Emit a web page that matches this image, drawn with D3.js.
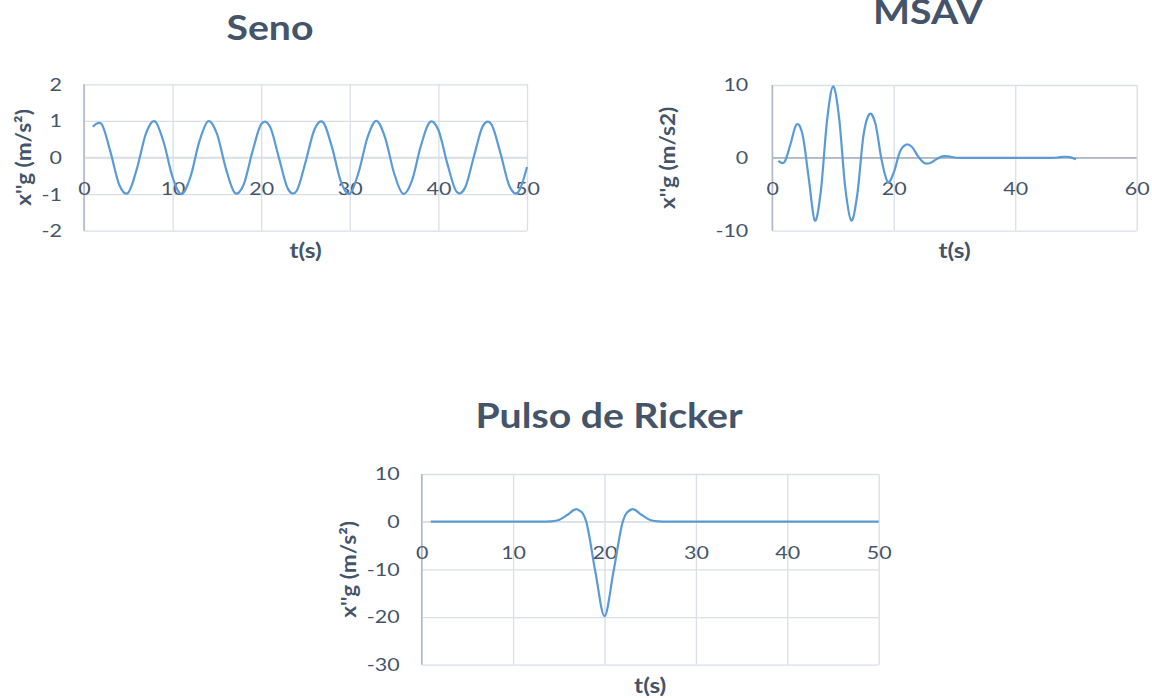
<!DOCTYPE html>
<html>
<head>
<meta charset="utf-8">
<script src="https://cdn.jsdelivr.net/npm/d3@7"></script>
<style>
  body { margin: 0; background: #fff; }
  svg { display: block; font-family: Lato, Carlito, Calibri, sans-serif; }
</style>
</head>
<body>
<svg id="chart" width="1152" height="698"></svg>
<script>
// Time samples (s), one per second
const time = d3.range(1, 51);

// Sine excitation x''g (m/s²)
const senoValues = [
  0.84, 0.91, 0.14, -0.76, -0.96, -0.28, 0.66, 0.99, 0.41, -0.54,
  -1.00, -0.54, 0.42, 0.99, 0.65, -0.29, -0.96, -0.75, 0.15, 0.91,
  0.84, -0.01, -0.85, -0.91, -0.13, 0.76, 0.96, 0.27, -0.66, -0.99,
  -0.40, 0.55, 1.00, 0.53, -0.43, -0.99, -0.64, 0.30, 0.96, 0.75,
  -0.16, -0.92, -0.83, 0.02, 0.85, 0.90, 0.12, -0.77, -0.95, -0.26
];

// MSAV record x''g (m/s2)
const msavValues = [
  -0.4, -0.6, 1.9, 4.6, 3.1, -2.8, -8.6, -4.5, 5.0, 9.8,
  5.5, -4.0, -8.6, -5.0, 3.0, 6.0, 4.6, -0.3, -3.3, -2.0,
  0.8, 1.8, 1.5, 0.2, -0.7, -0.7, -0.2, 0.2, 0.2, 0.05,
  0, 0, 0, 0, 0, 0, 0, 0, 0, 0,
  0, 0, 0, 0, 0, 0, 0.05, 0.15, 0.1, -0.2
];

// Ricker pulse x''g (m/s²)
const rickerValues = [
  0, 0, 0, 0, 0, 0, 0, 0, 0, 0,
  0, 0, 0, 0.05, 0.35, 1.5, 2.6, 0.0, -10.5, -19.8,
  -10.3, 0.0, 2.6, 1.5, 0.35, 0.05, 0, 0, 0, 0,
  0, 0, 0, 0, 0, 0, 0, 0, 0, 0,
  0, 0, 0, 0, 0, 0, 0, 0, 0, 0
];

// Axis ticks
const senoXTicks = [0, 10, 20, 30, 40, 50];
const senoYTicks = [-2, -1, 0, 1, 2];
const msavXTicks = [0, 20, 40, 60];
const msavYTicks = [-10, 0, 10];
const rickerXTicks = [0, 10, 20, 30, 40, 50];
const rickerYTicks = [-30, -20, -10, 0, 10];

const TEXT = "#44546A";
const GRID = "#D9DEE7";
const AXIS = "#AEB7C7";
const LINE = "#5B9BD5";

const panels = [
  {
    title: "Seno", titleX: 270, titleY: 40,
    yTitle: "x''g (m/s²)", yTitleX: 24,
    series: senoValues, xTicks: senoXTicks, yTicks: senoYTicks,
    xDomain: [0, 50], yDomain: [-2, 2],
    left: 84, right: 527, top: 84.3, bottom: 230.7,
    yLabelPad: 22, zeroColor: GRID, xTitleY: 258
  },
  {
    title: "MSAV", titleX: 928, titleY: 24,
    yTitle: "x''g (m/s2)", yTitleX: 668,
    series: msavValues, xTicks: msavXTicks, yTicks: msavYTicks,
    xDomain: [0, 60], yDomain: [-10, 10],
    left: 772.3, right: 1136.7, top: 85, bottom: 230.7,
    yLabelPad: 24, zeroColor: "#9AA3B3", xTitleY: 258
  },
  {
    title: "Pulso de Ricker", titleX: 609, titleY: 428.3,
    yTitle: "x''g (m/s²)", yTitleX: 348.6,
    series: rickerValues, xTicks: rickerXTicks, yTicks: rickerYTicks,
    xDomain: [0, 50], yDomain: [-30, 10],
    left: 421.7, right: 878.7, top: 474, bottom: 664.7,
    yLabelPad: 22, zeroColor: GRID, xTitleY: 693
  }
];

const svg = d3.select("#chart");
svg.append("rect").attr("width", 1152).attr("height", 698).attr("fill", "#fff");

const tickFont = 16.5;
const tickStretch = 1.3;
const titleFont = 35;
const titleStretch = 1.12;
const axisTitleFont = 20;
const fmt = d => String(d); // plain hyphen-minus for negatives

panels.forEach(p => {
  const g = svg.append("g");
  const x = d3.scaleLinear().domain(p.xDomain).range([p.left, p.right]);
  const y = d3.scaleLinear().domain(p.yDomain).range([p.bottom, p.top]);
  const h = p.bottom - p.top;
  const w = p.right - p.left;

  // vertical gridlines
  const vg = g.append("g")
    .attr("transform", `translate(0,${p.bottom})`)
    .call(d3.axisBottom(x).tickValues(p.xTicks).tickSize(-h).tickFormat(""));
  vg.select(".domain").remove();
  vg.selectAll("line").attr("stroke", GRID).attr("stroke-width", 1.3);

  // horizontal gridlines with value labels
  const hg = g.append("g")
    .attr("transform", `translate(${p.left},0)`)
    .call(d3.axisLeft(y).tickValues(p.yTicks).tickSize(-w).tickPadding(p.yLabelPad).tickFormat(fmt));
  hg.select(".domain").remove();
  hg.selectAll("line").attr("stroke", GRID).attr("stroke-width", 1.3);
  hg.selectAll("text")
    .attr("fill", TEXT).attr("font-size", tickFont).attr("font-family", "Lato, Carlito, sans-serif")
    .attr("x", 0).attr("dy", "0.36em")
    .attr("transform", `translate(${-p.yLabelPad},0) scale(${tickStretch},1)`);

  // horizontal axis line at zero
  g.append("line")
    .attr("x1", p.left).attr("x2", p.right)
    .attr("y1", y(0)).attr("y2", y(0))
    .attr("stroke", p.zeroColor).attr("stroke-width", 1.3);

  // vertical axis line
  g.append("line")
    .attr("x1", p.left).attr("x2", p.left)
    .attr("y1", p.top).attr("y2", p.bottom)
    .attr("stroke", AXIS).attr("stroke-width", 1.5);

  // time labels hanging below the zero line
  const xl = g.append("g")
    .attr("transform", `translate(0,${y(0)})`)
    .call(d3.axisBottom(x).tickValues(p.xTicks).tickSize(0).tickPadding(25.5).tickFormat(fmt));
  xl.select(".domain").remove();
  xl.selectAll("text")
    .attr("fill", TEXT).attr("font-size", tickFont).attr("font-family", "Lato, Carlito, sans-serif")
    .attr("transform", `scale(${tickStretch},1)`);

  // series
  const line = d3.line()
    .x((d, i) => x(time[i]))
    .y(d => y(d))
    .curve(d3.curveCardinal.tension(0));
  g.append("path")
    .datum(p.series)
    .attr("d", line)
    .attr("fill", "none")
    .attr("stroke", LINE)
    .attr("stroke-width", 2.2)
    .attr("stroke-linejoin", "round");

  // chart title
  g.append("text")
    .attr("transform", `translate(${p.titleX},${p.titleY}) scale(${titleStretch},1)`)
    .attr("text-anchor", "middle")
    .attr("font-size", titleFont).attr("font-weight", 700)
    .attr("fill", TEXT)
    .text(p.title);

  // axis titles
  g.append("text")
    .attr("transform", `translate(${(p.left + p.right) / 2},${p.xTitleY}) scale(1.22,1)`)
    .attr("text-anchor", "middle")
    .attr("font-size", axisTitleFont).attr("font-weight", 700)
    .attr("fill", TEXT)
    .text("t(s)");

  g.append("text")
    .attr("transform", `translate(${p.yTitleX},${(p.top + p.bottom) / 2}) rotate(-90) scale(1.13,1)`)
    .attr("text-anchor", "middle")
    .attr("dy", "0.36em")
    .attr("font-size", axisTitleFont).attr("font-weight", 700)
    .attr("fill", TEXT)
    .text(p.yTitle);
});
</script>
</body>
</html>
